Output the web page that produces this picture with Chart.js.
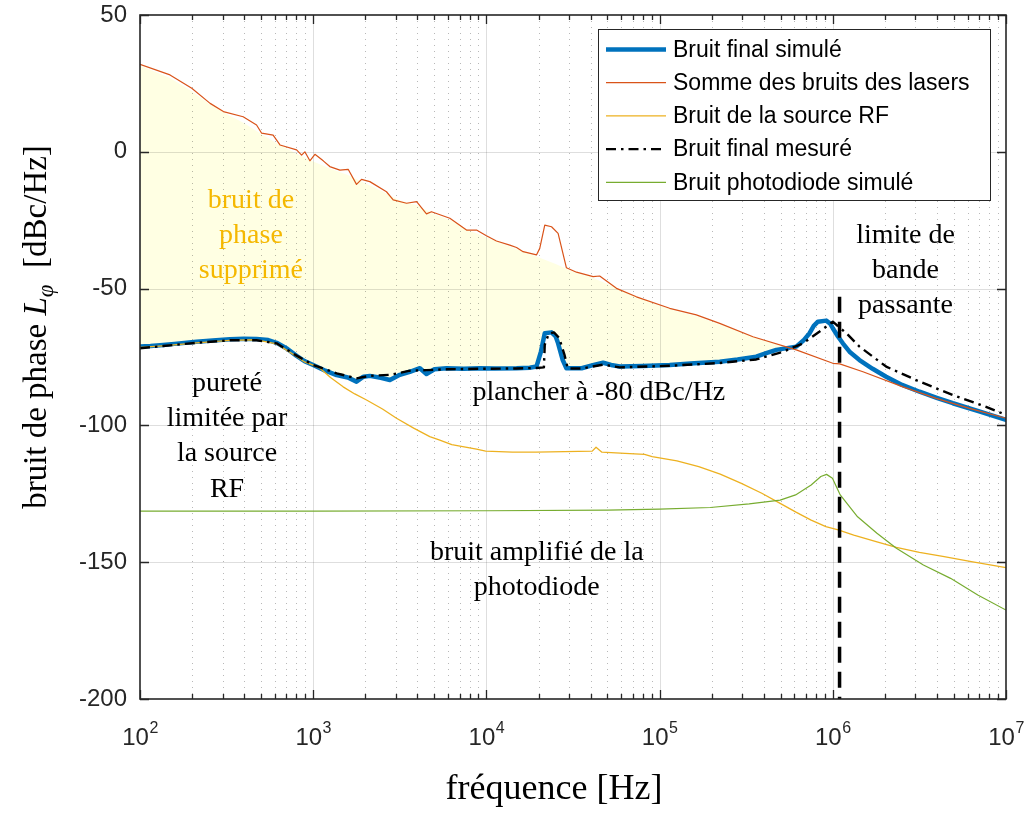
<!DOCTYPE html>
<html>
<head>
<meta charset="utf-8">
<script src="https://cdn.jsdelivr.net/npm/chart.js@4.4.1/dist/chart.umd.min.js"></script>
<style>
html,body{margin:0;padding:0;background:#fff;}
#wrap{width:1030px;height:814px;}
</style>
</head>
<body>
<div id="wrap"><canvas id="c" width="1030" height="814"></canvas></div>
<script>
// ---------------- DATA ----------------
const seriesLabels = ['Bruit final simulé','Somme des bruits des lasers','Bruit de la source RF','Bruit final mesuré','Bruit photodiode simulé'];

const freqFinalSim = [100,115,136,158,212,263,330,398,471,550,615,708,802,891,1000,1175,1365,1585,1778,1950,2123,2455,2773,3162,3614,4130,4508,5012,5888,7413,9162,11220,14928,17783,19454,20654,21727,23768,25119,25942,27542,28973,35481,41687,47206,52481,58884,79433,114288,158489,222331,281838,361410,416869,472063,615177,676083,734514,776247,820352,916220,966051,1000000,1071519,1142878,1258925,1425608,1698244,2032357,2511886,3169786,3981072,4931738,7079458,10000000];
const valFinalSim = [-71.2,-71.0,-70.6,-70.2,-69.4,-69.0,-68.5,-68.3,-68.4,-68.8,-69.8,-72.0,-74.6,-76.5,-77.9,-80.0,-81.6,-82.5,-84.0,-82.2,-81.9,-82.6,-83.4,-81.5,-80.4,-79.1,-81.2,-79.5,-79.1,-79.3,-79.1,-79.2,-79.1,-78.9,-78.5,-73.0,-66.3,-66.0,-67.5,-70.0,-76.0,-79.1,-79.1,-77.9,-77.1,-77.9,-78.5,-78.3,-77.9,-77.3,-76.7,-75.9,-74.9,-73.5,-72.4,-71.2,-69.0,-66.3,-63.6,-62.1,-61.7,-62.8,-64.5,-67.5,-70.0,-73.3,-76.1,-79.3,-82.2,-85.2,-87.7,-89.9,-91.9,-95.0,-98.0];

const freqLasers = [100,149,199,254,303,394,471,504,587,643,802,857,895,957,1023,1143,1247,1426,1592,1778,1901,2123,2649,2897,3459,3954,4508,4819,6152,7674,8770,10000,11429,13646,14928,16293,19454,20324,21727,23768,25942,28973,33113,41305,45082,56364,73451,114288,162930,222331,345939,615177,1000000,1096478,1492794,2540973,3953666,6151769,10000000];
const valLasers = [32.0,28.1,23.2,17.7,14.7,12.8,9.8,6.8,6.1,2.5,0.7,-1.2,0.0,-3.3,-0.9,-3.3,-5.4,-6.7,-6.4,-11.9,-10.1,-10.9,-14.6,-17.6,-18.8,-18.2,-22.7,-21.9,-24.3,-28.6,-28.6,-30.7,-32.6,-34.1,-35.0,-36.5,-37.7,-35.3,-26.8,-27.4,-29.8,-42.4,-44.0,-45.6,-45.4,-49.9,-53.0,-57.2,-59.6,-62.7,-67.6,-72.4,-77.3,-77.5,-80.4,-85.9,-90.1,-93.8,-97.4];

const freqSourceRF = [100,136,212,330,471,615,802,891,1000,1094,1259,1489,1738,2032,2512,3027,3802,4710,5333,6310,8770,9908,14125,19320,28184,40832,42954,46452,63096,81846,90573,125893,168267,223872,296483,389045,496592,616595,749894,912011,1074006,1321295,1778279,2328091,3162278,4315191,6309573,10000000];
const valSourceRF = [-71.5,-70.9,-69.8,-68.9,-68.7,-70.2,-74.8,-76.8,-78.0,-79.1,-82.5,-85.9,-88.5,-90.7,-94.0,-97.4,-101.0,-104.1,-105.3,-107.0,-108.7,-109.4,-109.8,-109.8,-109.6,-109.4,-108.0,-109.8,-110.2,-110.6,-111.4,-113.0,-115.1,-117.8,-121.2,-124.8,-128.5,-131.8,-134.6,-137.0,-138.2,-140.1,-142.5,-144.6,-146.4,-147.9,-149.8,-152.0];

const freqFinalMeas = [100,136,212,330,471,615,802,1000,1175,1365,1585,1778,2123,2773,3162,3614,4508,5888,9162,14928,19454,21478,21727,22909,24547,26303,28184,29512,35481,47206,58884,114288,222331,361410,515229,672977,839460,1000000,1196741,1425608,2032357,3169786,4931738,7673615,10000000];
const valFinalMeas = [-71.8,-71.0,-69.8,-68.9,-68.9,-70.0,-74.5,-77.9,-79.5,-81.0,-82.0,-82.8,-81.9,-81.5,-80.8,-80.0,-79.8,-79.5,-79.3,-79.2,-79.0,-78.8,-70.5,-66.5,-66.0,-68.0,-74.0,-79.2,-79.2,-77.8,-78.8,-78.2,-77.2,-75.9,-73.1,-70.0,-65.7,-62.1,-66.3,-71.2,-78.5,-84.0,-88.9,-93.2,-96.2];

const freqPhotodiode = [100,1000,10000,50119,100000,196336,328852,496592,609537,749894,853067,920450,995405,1104079,1390041,1798871,2328091,3334264,4786301,6870659,10000000];
const valPhotodiode = [-131.3,-131.3,-131.2,-131.0,-130.6,-130.0,-128.7,-127.3,-125.4,-121.8,-118.7,-117.9,-119.3,-125.4,-133.4,-139.4,-144.9,-151.0,-155.9,-162.0,-167.5];

// upper edge of the shaded "suppressed phase noise" region
const freqSuppressedTop = [100,149,200,251,316,398,501,631,794,1000,1259,1585,1995,2512,3162,3981,5012,6310,7943,10000,12589,15849,19953,25119,31623,39811,50119,63096,79433,100000,125893,158489,199526,251189,316228,398107,501187,630957,794328,1000000];
const valSuppressedTop = [31.5,27.0,22.0,17.5,13.8,10.5,6.5,2.8,-0.5,-3.5,-6.2,-8.5,-11.5,-14.5,-17.8,-19.5,-22.8,-25.2,-28.8,-31.2,-33.8,-36.2,-38.5,-41.0,-43.8,-45.8,-48.3,-51.3,-53.8,-56.3,-58.3,-59.8,-62.0,-64.2,-66.8,-69.0,-71.0,-72.9,-75.0,-77.6];

// bandwidth limit marker
const freqBandLimit = [1094000,1094000];
const valBandLimit = [-53,-200];

// ticks
const xTickExponents = [2,3,4,5,6,7];
const yTickValues = [50,0,-50,-100,-150,-200];

// annotation texts
const annotationTexts = [
  ['bruit de','phase','supprimé'],
  ['pureté','limitée par','la source','RF'],
  ['plancher à -80 dBc/Hz'],
  ['limite de','bande','passante'],
  ['bruit amplifié de la','photodiode']
];
const annotationAnchorFreq = [437, 318, 44530, 2630000, 19540];
const annotationAnchorVal = [-20.5, -87.4, -90.7, -33.3, -149.2];

// ---------------- STYLE ----------------
const SANS = '"Liberation Sans", Arial, Helvetica, sans-serif';
const SERIF = '"Liberation Serif", "Times New Roman", Times, serif';
const annotationColors = ['#F5B800','#000','#000','#000','#000'];
const FILL_COLOR = 'rgb(255,255,227)';

function pts(fs, vs){ return fs.map((f,i)=>({x:f, y:vs[i]})); }

const legendOrder = [1,2,3,4,5];

const matlabPlugin = {
  id: 'matlabStyle',
  beforeDatasetsDraw(chart){
    const {ctx, chartArea:a, scales:{x, y}} = chart;
    ctx.save();
    ctx.lineWidth = 1;
    for (const t of x.ticks){
      const px = Math.round(x.getPixelForValue(t.value)) + 0.5;
      if (px <= a.left + 1 || px >= a.right - 1) continue;
      ctx.beginPath();
      if (t.major){ ctx.setLineDash([]); ctx.strokeStyle = 'rgba(0,0,0,0.13)'; }
      else { ctx.setLineDash([1,5]); ctx.strokeStyle = 'rgba(0,0,0,0.28)'; }
      ctx.moveTo(px, a.top); ctx.lineTo(px, a.bottom); ctx.stroke();
    }
    ctx.setLineDash([]);
    ctx.strokeStyle = 'rgba(0,0,0,0.13)';
    for (const t of y.ticks){
      const py = Math.round(y.getPixelForValue(t.value)) + 0.5;
      if (py <= a.top + 1 || py >= a.bottom - 1) continue;
      ctx.beginPath(); ctx.moveTo(a.left, py); ctx.lineTo(a.right, py); ctx.stroke();
    }
    ctx.restore();
  },
  afterDatasetsDraw(chart){
    const {ctx, chartArea:a, scales:{x, y}} = chart;
    ctx.save();
    // annotations
    ctx.textAlign = 'center';
    ctx.textBaseline = 'alphabetic';
    ctx.font = '28px ' + SERIF;
    annotationTexts.forEach((lines, i) => {
      const px = x.getPixelForValue(annotationAnchorFreq[i]);
      const py = y.getPixelForValue(annotationAnchorVal[i]);
      ctx.fillStyle = annotationColors[i];
      lines.forEach((ln, k) => ctx.fillText(ln, px, py + k*35.2));
    });
    // frame
    ctx.strokeStyle = '#262626';
    ctx.lineWidth = 1.6;
    ctx.strokeRect(a.left, a.top, a.right - a.left, a.bottom - a.top);
    // ticks
    ctx.lineWidth = 1.3;
    ctx.beginPath();
    for (const t of x.ticks){
      const px = Math.round(x.getPixelForValue(t.value)) + 0.5;
      const len = t.major ? 9 : 5;
      ctx.moveTo(px, a.bottom); ctx.lineTo(px, a.bottom - len);
      ctx.moveTo(px, a.top); ctx.lineTo(px, a.top + len);
    }
    for (const t of y.ticks){
      const py = Math.round(y.getPixelForValue(t.value)) + 0.5;
      ctx.moveTo(a.left, py); ctx.lineTo(a.left + 9, py);
      ctx.moveTo(a.right, py); ctx.lineTo(a.right - 9, py);
    }
    ctx.stroke();
    // legend
    const lw = 392, lh = 171;
    const lx0 = a.right - 16 - lw, ly0 = a.top + 14;
    ctx.fillStyle = '#fff';
    ctx.fillRect(lx0, ly0, lw, lh);
    ctx.strokeStyle = '#262626';
    ctx.lineWidth = 1;
    ctx.strokeRect(lx0 + 0.5, ly0 + 0.5, lw, lh);
    ctx.textAlign = 'left';
    ctx.textBaseline = 'middle';
    ctx.font = '23px ' + SANS;
    legendOrder.forEach((di, k) => {
      const ds = chart.data.datasets[di];
      const cy = ly0 + 20.5 + k*33.2;
      ctx.beginPath();
      ctx.setLineDash(ds.legendDash || []);
      ctx.strokeStyle = ds.borderColor;
      ctx.lineWidth = ds.borderWidth;
      ctx.moveTo(lx0 + 8, cy); ctx.lineTo(lx0 + 68, cy);
      ctx.stroke();
      ctx.setLineDash([]);
      ctx.fillStyle = '#000';
      ctx.fillText(ds.label, lx0 + 75, cy + 1);
    });
    ctx.restore();
  },
  afterDraw(chart){
    const {ctx, chartArea:a, scales:{x}} = chart;
    ctx.save();
    ctx.fillStyle = '#262626';
    ctx.textBaseline = 'alphabetic';
    ctx.textAlign = 'left';
    xTickExponents.forEach(e => {
      const px = x.getPixelForValue(Math.pow(10, e));
      ctx.font = '24px ' + SANS;
      const w1 = ctx.measureText('10').width;
      ctx.font = '16px ' + SANS;
      const w2 = ctx.measureText(String(e)).width;
      const sx = px - (w1 + w2)/2;
      ctx.font = '24px ' + SANS;
      ctx.fillText('10', sx, a.bottom + 46);
      ctx.font = '16px ' + SANS;
      ctx.fillText(String(e), sx + w1 + 0.5, a.bottom + 34);
    });
    // x title
    ctx.fillStyle = '#000';
    ctx.textAlign = 'center';
    ctx.font = '36px ' + SERIF;
    ctx.fillText('fréquence [Hz]', 554, 799);
    // y title
    ctx.translate(46, 327);
    ctx.rotate(-Math.PI/2);
    const parts = [
      {t:'bruit de phase ', f:'33px ' + SERIF, dy:0},
      {t:'L', f:'italic 33px ' + SERIF, dy:0},
      {t:'φ', f:'italic 23px ' + SERIF, dy:7},
      {t:'  [dBc/Hz]', f:'33px ' + SERIF, dy:0}
    ];
    let total = 0;
    parts.forEach(p => { ctx.font = p.f; p.w = ctx.measureText(p.t).width; total += p.w; });
    let cx = -total/2;
    ctx.textAlign = 'left';
    parts.forEach(p => { ctx.font = p.f; ctx.fillText(p.t, cx, p.dy); cx += p.w; });
    ctx.restore();
  }
};

const commonLine = { pointRadius:0, pointHoverRadius:0, tension:0, fill:false, borderJoinStyle:'round' };

new Chart(document.getElementById('c'), {
  type: 'line',
  data: {
    datasets: [
      Object.assign({}, commonLine, { label:'', data: pts(freqSuppressedTop, valSuppressedTop), borderColor:'rgba(0,0,0,0)', borderWidth:1,
        fill:{ target:1, above: FILL_COLOR, below:'rgba(0,0,0,0)' }, order:9 }),
      Object.assign({}, commonLine, { label: seriesLabels[0], data: pts(freqFinalSim, valFinalSim), borderColor:'#0072BD', borderWidth:4.5, borderCapStyle:'round', order:5 }),
      Object.assign({}, commonLine, { label: seriesLabels[1], data: pts(freqLasers, valLasers), borderColor:'#D95319', borderWidth:1.2, order:4 }),
      Object.assign({}, commonLine, { label: seriesLabels[2], data: pts(freqSourceRF, valSourceRF), borderColor:'#EDB120', borderWidth:1.3, order:3 }),
      Object.assign({}, commonLine, { label: seriesLabels[3], data: pts(freqFinalMeas, valFinalMeas), borderColor:'#000000', borderWidth:2.4, borderDash:[10,5,2.5,5], legendDash:[10,5,2.5,5], order:2 }),
      Object.assign({}, commonLine, { label: seriesLabels[4], data: pts(freqPhotodiode, valPhotodiode), borderColor:'#77AC30', borderWidth:1.2, order:1 }),
      Object.assign({}, commonLine, { label:'', data: pts(freqBandLimit, valBandLimit), borderColor:'#000000', borderWidth:3.5, borderDash:[16,9], borderCapStyle:'butt', order:0 })
    ]
  },
  options: {
    responsive: false,
    animation: false,
    events: [],
    layout: { padding: { left:0, right:24, top:15, bottom:0 } },
    plugins: {
      legend: { display:false },
      tooltip: { enabled:false },
      filler: { drawTime:'beforeDatasetsDraw', propagate:false }
    },
    scales: {
      x: {
        type: 'logarithmic',
        min: 100, max: 1e7,
        grid: { display:false, drawTicks:false },
        border: { display:false },
        ticks: { display:false },
        afterBuildTicks(scale){
          const t = [];
          for (let e = xTickExponents[0]; e <= xTickExponents[xTickExponents.length-1]; e++){
            for (let m = 1; m <= 9; m++){
              const v = m * Math.pow(10, e);
              if (v > 1e7) break;
              t.push({ value: v, major: m === 1 });
              if (e === xTickExponents[xTickExponents.length-1]) break;
            }
          }
          scale.ticks = t;
        },
        afterFit(scale){ scale.height = 115; scale.paddingLeft = 0; scale.paddingRight = 0; }
      },
      y: {
        type: 'linear',
        min: -200, max: 50,
        grid: { display:false, drawTicks:false },
        border: { display:false },
        ticks: { stepSize:50, padding:13, color:'#262626', font:{ family: SANS, size:24 },
                 callback: (v) => yTickValues.includes(v) ? String(v) : '' },
        afterFit(scale){ scale.width = 140; scale.paddingTop = 0; scale.paddingBottom = 0; }
      }
    }
  },
  plugins: [matlabPlugin]
});
</script>
</body>
</html>
